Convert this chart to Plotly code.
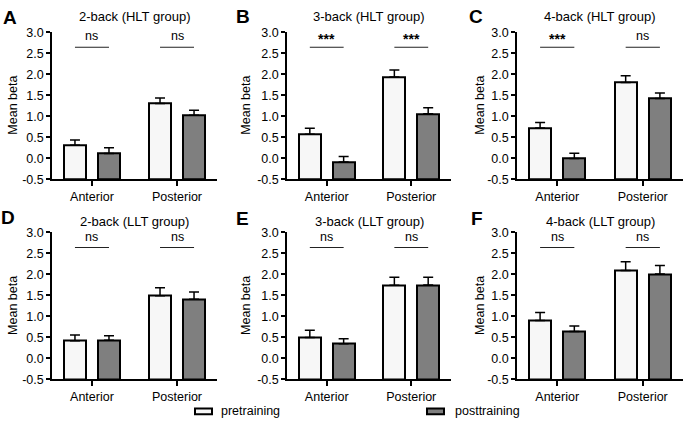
import plotly.graph_objects as go

# ---------------- data ----------------
categories = ["Anterior", "Posterior"]
panel_letters = ["A", "B", "C", "D", "E", "F"]
panel_titles = ["2-back (HLT group)", "3-back (HLT group)", "4-back (HLT group)",
                "2-back (LLT group)", "3-back (LLT group)", "4-back (LLT group)"]

pre_A = [0.31, 1.30]; pre_A_err = [0.12, 0.13]
post_A = [0.11, 1.02]; post_A_err = [0.14, 0.12]
pre_B = [0.57, 1.93]; pre_B_err = [0.14, 0.17]
post_B = [-0.09, 1.06]; post_B_err = [0.13, 0.14]
pre_C = [0.72, 1.80]; pre_C_err = [0.13, 0.16]
post_C = [-0.01, 1.42]; post_C_err = [0.13, 0.13]
pre_D = [0.42, 1.49]; pre_D_err = [0.14, 0.19]
post_D = [0.43, 1.41]; post_D_err = [0.11, 0.17]
pre_E = [0.50, 1.74]; pre_E_err = [0.17, 0.19]
post_E = [0.35, 1.75]; post_E_err = [0.12, 0.18]
pre_F = [0.90, 2.09]; pre_F_err = [0.19, 0.21]
post_F = [0.64, 2.01]; post_F_err = [0.13, 0.20]

sig_A = ["ns", "ns"]
sig_B = ["***", "***"]
sig_C = ["***", "ns"]
sig_D = ["ns", "ns"]
sig_E = ["ns", "ns"]
sig_F = ["ns", "ns"]

y_tick_vals = [-0.5, 0.0, 0.5, 1.0, 1.5, 2.0, 2.5, 3.0]
y_tick_labels = ["-0.5", "0.0", "0.5", "1.0", "1.5", "2.0", "2.5", "3.0"]
series_names = ["pretraining", "posttraining"]

panels = [
    (pre_A, pre_A_err, post_A, post_A_err, sig_A),
    (pre_B, pre_B_err, post_B, post_B_err, sig_B),
    (pre_C, pre_C_err, post_C, post_C_err, sig_C),
    (pre_D, pre_D_err, post_D, post_D_err, sig_D),
    (pre_E, pre_E_err, post_E, post_E_err, sig_E),
    (pre_F, pre_F_err, post_F, post_F_err, sig_F),
]

# ---------------- style / layout ----------------
W, H = 685, 428
FONT = "Liberation Sans, Arial, sans-serif"
PRE_COLOR = "#f7f7f7"
POST_COLOR = "#7f7f7f"
BASE = -0.5
BAR_W = 0.26
SIG_LINE_Y = 2.64
SIG_TEXT_Y = 2.9

def fx(px):
    return px / W

def fy(py):
    return 1 - py / H

col_px = [(52, 217), (287, 451), (517, 683)]
row_px = [(26, 178), (233, 385)]
title_y = [10, 222]
letter_pos = [(10, 11), (243, 10), (476, 10), (8, 218), (242, 219), (477, 219)]
ylabel_x = [13, 246, 480]

fig = go.Figure()
layout = dict(
    width=W, height=H, margin=dict(l=0, r=0, t=0, b=0),
    plot_bgcolor="white", paper_bgcolor="white",
    showlegend=False, bargap=0,
    font=dict(family=FONT, size=12, color="black"),
)
annotations = []
shapes = []

for k, (pre, pre_err, post, post_err, sig) in enumerate(panels):
    r, c = divmod(k, 3)
    n = "" if k == 0 else str(k + 1)
    xa, ya = "x" + n, "y" + n
    xpos = list(range(len(categories)))
    for vals, errs, off, color, name in [
        (pre, pre_err, -0.33, PRE_COLOR, series_names[0]),
        (post, post_err, 0.07, POST_COLOR, series_names[1]),
    ]:
        fig.add_trace(go.Bar(
            x=xpos, y=[v - BASE for v in vals], base=BASE,
            width=BAR_W, offset=off, name=name,
            marker=dict(color=color, line=dict(color="black", width=2)),
            error_y=dict(type="data", array=errs, arrayminus=[0] * len(errs),
                         symmetric=False, color="black", thickness=1.5, width=5),
            xaxis=xa, yaxis=ya,
        ))
    x0, x1 = col_px[c]
    yt, yb = row_px[r]
    layout["xaxis" + n] = dict(
        domain=[fx(x0), fx(x1)], anchor=ya, range=[-0.47, 1.47],
        tickmode="array", tickvals=xpos, ticktext=categories,
        ticks="outside", ticklen=5, tickwidth=1.5, tickcolor="black",
        showline=True, linecolor="black", linewidth=1.5,
        showgrid=False, zeroline=False, fixedrange=True,
        tickfont=dict(family=FONT, size=12.5, color="black"),
    )
    layout["yaxis" + n] = dict(
        domain=[fy(yb), fy(yt)], anchor=xa, range=[-0.5, 3.0],
        tickmode="array", tickvals=y_tick_vals, ticktext=y_tick_labels,
        ticks="outside", ticklen=4, tickwidth=1.5, tickcolor="black",
        showline=True, linecolor="black", linewidth=1.5,
        showgrid=False, zeroline=False, fixedrange=True,
        tickfont=dict(family=FONT, size=12.5, color="black"),
    )
    # panel title
    annotations.append(dict(text=panel_titles[k], x=fx((x0 + x1) / 2), y=fy(title_y[r]),
                            xref="paper", yref="paper", showarrow=False,
                            xanchor="center", yanchor="middle",
                            font=dict(family=FONT, size=13)))
    # panel letter
    lx, ly = letter_pos[k]
    annotations.append(dict(text="<b>" + panel_letters[k] + "</b>", x=fx(lx), y=fy(ly),
                            xref="paper", yref="paper", showarrow=False,
                            xanchor="center", yanchor="middle",
                            font=dict(family=FONT, size=19)))
    # y-axis title
    annotations.append(dict(text="Mean beta", x=fx(ylabel_x[c]), y=fy((yt + yb) / 2),
                            xref="paper", yref="paper", showarrow=False, textangle=-90,
                            xanchor="center", yanchor="middle",
                            font=dict(family=FONT, size=12.5)))
    # significance
    for i, s in enumerate(sig):
        shapes.append(dict(type="line", xref=xa, yref=ya, x0=i - 0.2, x1=i + 0.2,
                           y0=SIG_LINE_Y, y1=SIG_LINE_Y, line=dict(color="#222222", width=1.2)))
        if s.startswith("*"):
            annotations.append(dict(text="<b>" + s + "</b>", x=i, y=SIG_TEXT_Y - 0.07,
                                    xref=xa, yref=ya, showarrow=False,
                                    xanchor="center", yanchor="middle",
                                    font=dict(family=FONT, size=14)))
        else:
            annotations.append(dict(text=s, x=i, y=SIG_TEXT_Y,
                                    xref=xa, yref=ya, showarrow=False,
                                    xanchor="center", yanchor="middle",
                                    font=dict(family=FONT, size=12.5)))

# legend (drawn)
for (bx, tx), color, name in [((195, 219), PRE_COLOR, series_names[0]),
                              ((427, 453), POST_COLOR, series_names[1])]:
    shapes.append(dict(type="rect", xref="paper", yref="paper",
                       x0=fx(bx), x1=fx(bx + 17), y0=fy(421), y1=fy(415),
                       fillcolor=color, line=dict(color="black", width=2)))
    annotations.append(dict(text=name, x=fx(tx), y=fy(418), xref="paper", yref="paper",
                            showarrow=False, xanchor="left", yanchor="middle",
                            font=dict(family=FONT, size=12.5)))

layout["annotations"] = annotations
layout["shapes"] = shapes
fig.update_layout(**layout)
fig.write_html("out.html", config={"displayModeBar": False},
               post_script="document.body.style.margin='0';document.body.style.overflow='hidden';")
